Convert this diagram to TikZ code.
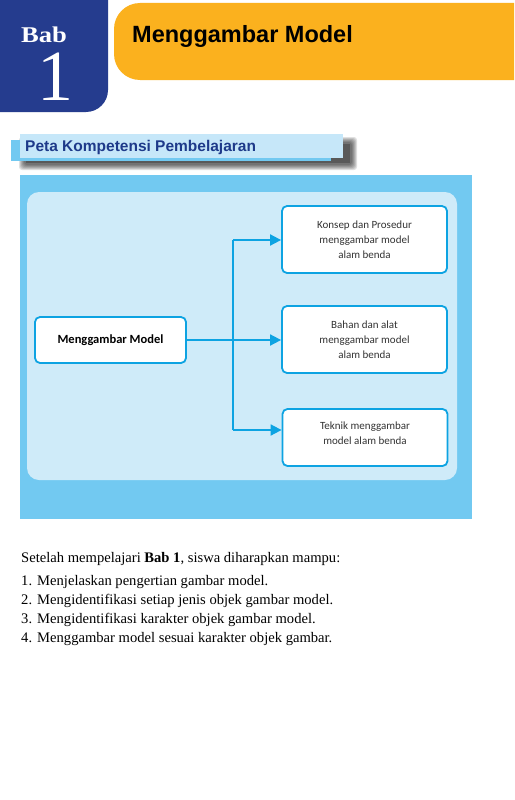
\documentclass[tikz,border=0pt]{standalone}
\usepackage{fontspec}
\setmainfont{Liberation Serif}
\setsansfont{Liberation Sans}
\newfontfamily\calib{Carlito}
\usetikzlibrary{arrows.meta}
\definecolor{tabblue}{HTML}{253C8E}
\definecolor{bannerorange}{HTML}{FBB11E}
\definecolor{boxblue}{HTML}{72C9F1}
\definecolor{panelblue}{HTML}{CFEBF9}
\definecolor{linkblue}{HTML}{0DA3E2}
\definecolor{titleblue}{HTML}{1E3A8A}
\definecolor{stripblue}{HTML}{C6E7F9}
\definecolor{nodetext}{HTML}{333333}
\tikzset{
  topic/.style={draw=linkblue, line width=1.8pt, fill=white, rounded corners=5pt,
    minimum width=165pt, align=center, text=nodetext, font=\calib\fontsize{11}{15}\selectfont},
  link/.style={linkblue, line width=1.8pt, -{Triangle[length=11pt,width=11pt]}},
  bodytext/.style={anchor=base west, inner sep=0pt, font=\fontsize{14.6}{17}\selectfont, text=black}
}
\begin{document}
\begin{tikzpicture}[x=1pt,y=-1pt]
\useasboundingbox (0,0) rectangle (514,800);
\fill[white] (0,0) rectangle (514,800);
\begin{scope}
\clip (0,0) rectangle (514,800);
\fill[tabblue, rounded corners=22pt] (-40,-40) rectangle (108,112);
\fill[bannerorange, rounded corners=26pt] (114,3) rectangle (560,80);
\end{scope}
\node[inner sep=0pt, anchor=base, text=white, align=center,
      font=\fontsize{22.5}{57.5}\selectfont] (bab) at (49.5,100)
  {\hspace*{-11pt}\scalebox{1.18}[1]{\bfseries Bab}\\
   {\fontsize{72}{57.5}\selectfont\hspace*{11pt}1}};
\node[inner sep=0pt, anchor=base west] (title) at (132,43)
  {\sffamily\bfseries\fontsize{23.5}{24}\selectfont Menggambar Model};
% Peta heading with soft shadow
\foreach \o in {5,4,3,2,1,0}{
  \fill[black, opacity=0.12, rounded corners=3pt] (24-\o,142-\o) rectangle (352+\o,165+\o);
}
\fill[black!75, opacity=0.5] (26,144) rectangle (350,163);
\fill[boxblue] (11,140) rectangle (331,161);
\fill[stripblue] (20,134) rectangle (343,158);
\node[inner sep=0pt, anchor=base west, text=titleblue] (peta) at (25,151)
  {\sffamily\bfseries\fontsize{15.5}{16}\selectfont Peta Kompetensi Pembelajaran};
% main box
\fill[boxblue] (20,175) rectangle (472,519);
\fill[panelblue, rounded corners=12pt] (27,192) rectangle (457,480);
\node[topic, minimum width=151pt, minimum height=46pt, font=\calib\bfseries\fontsize{12.5}{14}\selectfont, text=black] (main) at (110.5,340) {Menggambar Model};
\node[topic, minimum height=67pt] (k1) at (364.5,239.5) {Konsep dan Prosedur\\menggambar model\\alam benda};
\node[topic, minimum height=67pt] (k2) at (364.5,339.5) {Bahan dan alat\\menggambar model\\alam benda};
\node[topic, minimum height=57pt, text depth=8pt] (k3) at (365,437.5) {Teknik menggambar\\model alam benda};
\coordinate (j1) at (233,240);
\coordinate (j2) at (233,340);
\coordinate (j3) at (233,430);
\draw[linkblue, line width=1.8pt] (main.east) -- (j2);
\draw[link] (j2) -- (k2.west |- j2);
\draw[linkblue, line width=1.8pt] (j1) -- (j3);
\draw[link] (j1) -- (k1.west |- j1);
\draw[link] (j3) -- (k3.west |- j3);
% bottom text
\node[bodytext] (intro) at (21,562) {Setelah mempelajari \textbf{Bab 1}, siswa diharapkan mampu:};
\node[bodytext] (n1) at (21,585) {1.};
\node[bodytext] (t1) at (37,585) {Menjelaskan pengertian gambar model.};
\node[bodytext] (n2) at (21,604) {2.};
\node[bodytext] (t2) at (37,604) {Mengidentifikasi setiap jenis objek gambar model.};
\node[bodytext] (n3) at (21,623) {3.};
\node[bodytext] (t3) at (37,623) {Mengidentifikasi karakter objek gambar model.};
\node[bodytext] (n4) at (21,642) {4.};
\node[bodytext] (t4) at (37,642) {Menggambar model sesuai karakter objek gambar.};
\end{tikzpicture}
\end{document}
